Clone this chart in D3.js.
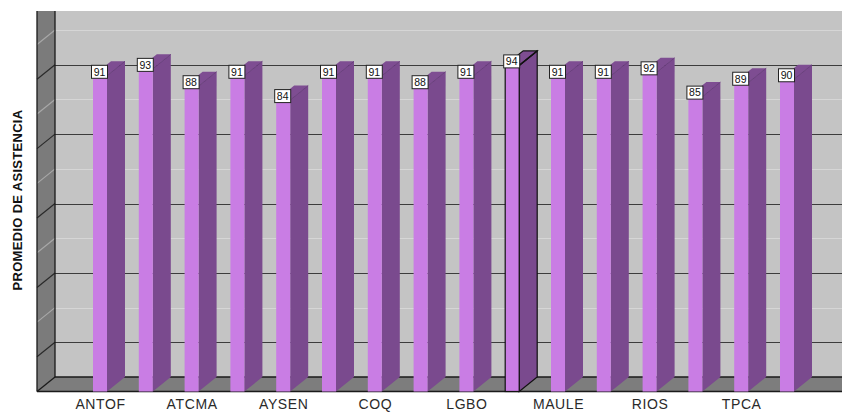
<!DOCTYPE html>
<html>
<head>
<meta charset="utf-8">
<script src="https://cdn.jsdelivr.net/npm/d3@7"></script>
<style>
  html, body { margin: 0; padding: 0; background: #fff; }
  svg { display: block; }
  text { font-family: "Liberation Sans", Arial, sans-serif; }
</style>
</head>
<body>
<svg id="chart" width="842" height="412"></svg>
<script>
// Regions and their average attendance
const regions = ["ANTOF", "ARAUC", "ATCMA", "ARICA", "AYSEN", "BIOBIO", "COQ", "LAGOS",
                 "LGBO", "MAGALL", "MAULE", "METRO", "RIOS", "TARAP", "TPCA", "VALPO"];
const attendance = [91, 93, 88, 91, 84, 91, 91, 88, 91, 94, 91, 91, 92, 85, 89, 90];
// Only every other region name is printed under the axis
const shownRegions = regions.filter((d, i) => i % 2 === 0);
const gridValues = [10, 20, 30, 40, 50, 60, 70, 80, 90, 100];
const highlighted = "MAGALL";
const yTitle = "PROMEDIO DE ASISTENCIA";

const svg = d3.select("#chart");
const W = 842;

// 3D geometry: back plane values, front plane offset by depth
const depthX = 18, depthY = 14.5;
const wallLeft = 55, wallTop = 11;
const y = d3.scaleLinear().domain([0, 105.5]).range([377, wallTop]);
const x = d3.scalePoint().domain(regions).range([100, 787]);
const frontW = 14;
const y0 = y(0);
const frontY = v => y(v) + depthY;

const poly = pts => pts.map(p => p.join(",")).join(" ");

// Back wall
svg.append("rect")
  .attr("x", wallLeft).attr("y", wallTop)
  .attr("width", W - wallLeft).attr("height", y0 - wallTop)
  .attr("fill", "#c4c4c4");

// Back wall grid
svg.append("g").selectAll("line").data(gridValues).join("line")
  .attr("x1", wallLeft).attr("x2", W)
  .attr("y1", d => Math.round(y(d)) + 0.5).attr("y2", d => Math.round(y(d)) + 0.5)
  .attr("stroke", d => (d / 10) % 2 === 1 ? "#3c3c3c" : "#d6d6d6")
  .attr("stroke-width", 1);

// Left side wall
svg.append("polygon")
  .attr("points", poly([[wallLeft - depthX, wallTop], [wallLeft, wallTop], [wallLeft, y0], [wallLeft - depthX, y0 + depthY]]))
  .attr("fill", "#7b7b7b");
svg.append("g").selectAll("line").data(gridValues).join("line")
  .attr("x1", wallLeft - depthX).attr("y1", d => y(d) + depthY)
  .attr("x2", wallLeft).attr("y2", d => y(d))
  .attr("stroke", d => (d / 10) % 2 === 1 ? "#2a2a2a" : "#a8a8a8")
  .attr("stroke-width", 1.2);

// Floor
svg.append("polygon")
  .attr("points", poly([[wallLeft - depthX, y0 + depthY], [wallLeft, y0], [W, y0], [W, y0 + depthY]]))
  .attr("fill", "#7d7d7d");

// Frame edges
const edges = svg.append("g").attr("stroke", "#1a1a1a").attr("stroke-width", 1.3);
edges.append("line").attr("x1", wallLeft).attr("x2", wallLeft).attr("y1", wallTop).attr("y2", y0);
edges.append("line").attr("x1", wallLeft - depthX).attr("x2", wallLeft - depthX).attr("y1", wallTop).attr("y2", y0 + depthY);
edges.append("line").attr("x1", wallLeft).attr("x2", W).attr("y1", y0).attr("y2", y0);
edges.append("line").attr("x1", wallLeft - depthX).attr("x2", W).attr("y1", y0 + depthY).attr("y2", y0 + depthY);
edges.append("line").attr("x1", wallLeft - depthX).attr("y1", y0 + depthY).attr("x2", wallLeft).attr("y2", y0);

// Bars
const data = regions.map((r, i) => ({ region: r, value: attendance[i] }));
const bars = svg.append("g").selectAll("g").data(data).join("g");

bars.each(function (d) {
  const g = d3.select(this);
  const xl = x(d.region) - frontW / 2, xr = x(d.region) + frontW / 2;
  const yt = frontY(d.value), yb = frontY(0);
  const sel = d.region === highlighted;
  const stroke = sel ? "#111" : "none";
  // side face
  g.append("polygon")
    .attr("points", poly([[xr, yt], [xr + depthX, yt - depthY], [xr + depthX, yb - depthY], [xr, yb]]))
    .attr("fill", "#7a4a8e").attr("stroke", stroke).attr("stroke-width", 1.2);
  // top face
  g.append("polygon")
    .attr("points", poly([[xl, yt], [xr, yt], [xr + depthX, yt - depthY], [xl + depthX, yt - depthY]]))
    .attr("fill", "#7e4d92").attr("stroke", stroke).attr("stroke-width", 1.2);
  // edge between top and side
  g.append("line")
    .attr("x1", xr).attr("y1", yt).attr("x2", xr + depthX).attr("y2", yt - depthY)
    .attr("stroke", sel ? "#111" : "#5f3573").attr("stroke-width", sel ? 1.4 : 0.8);
  // front face
  g.append("rect")
    .attr("x", xl).attr("y", yt).attr("width", frontW).attr("height", yb - yt)
    .attr("fill", "#c97de4").attr("stroke", stroke).attr("stroke-width", 1.2);
});

// Value labels
const lab = svg.append("g").selectAll("g").data(data).join("g")
  .attr("transform", d => `translate(${x(d.region) - 0.5},${frontY(d.value) - 4})`);
lab.append("rect")
  .attr("x", -8).attr("y", -6.5).attr("width", 16).attr("height", 13)
  .attr("fill", "#fff").attr("stroke", "#222").attr("stroke-width", 1);
lab.append("text")
  .attr("text-anchor", "middle").attr("dy", "0.36em")
  .attr("font-size", 10.5).attr("fill", "#111")
  .text(d => d.value);

// Category axis
const xAxis = d3.axisBottom(x).tickValues(shownRegions).tickSize(0).tickPadding(0);
const ax = svg.append("g").attr("transform", `translate(0,${y0 + depthY + 6})`).call(xAxis);
ax.select(".domain").remove();
ax.selectAll("text")
  .attr("font-family", "'Liberation Sans', Arial, sans-serif")
  .attr("font-size", 14).attr("letter-spacing", 0.6)
  .attr("fill", "#2a2a2a").attr("dy", "0.8em");

// Axis title
svg.append("text")
  .attr("transform", `translate(22,${(wallTop + y0) / 2 + 6}) rotate(-90)`)
  .attr("text-anchor", "middle")
  .attr("font-size", 13).attr("font-weight", "bold").attr("letter-spacing", 0.3)
  .attr("fill", "#111")
  .text(yTitle);
</script>
</body>
</html>
